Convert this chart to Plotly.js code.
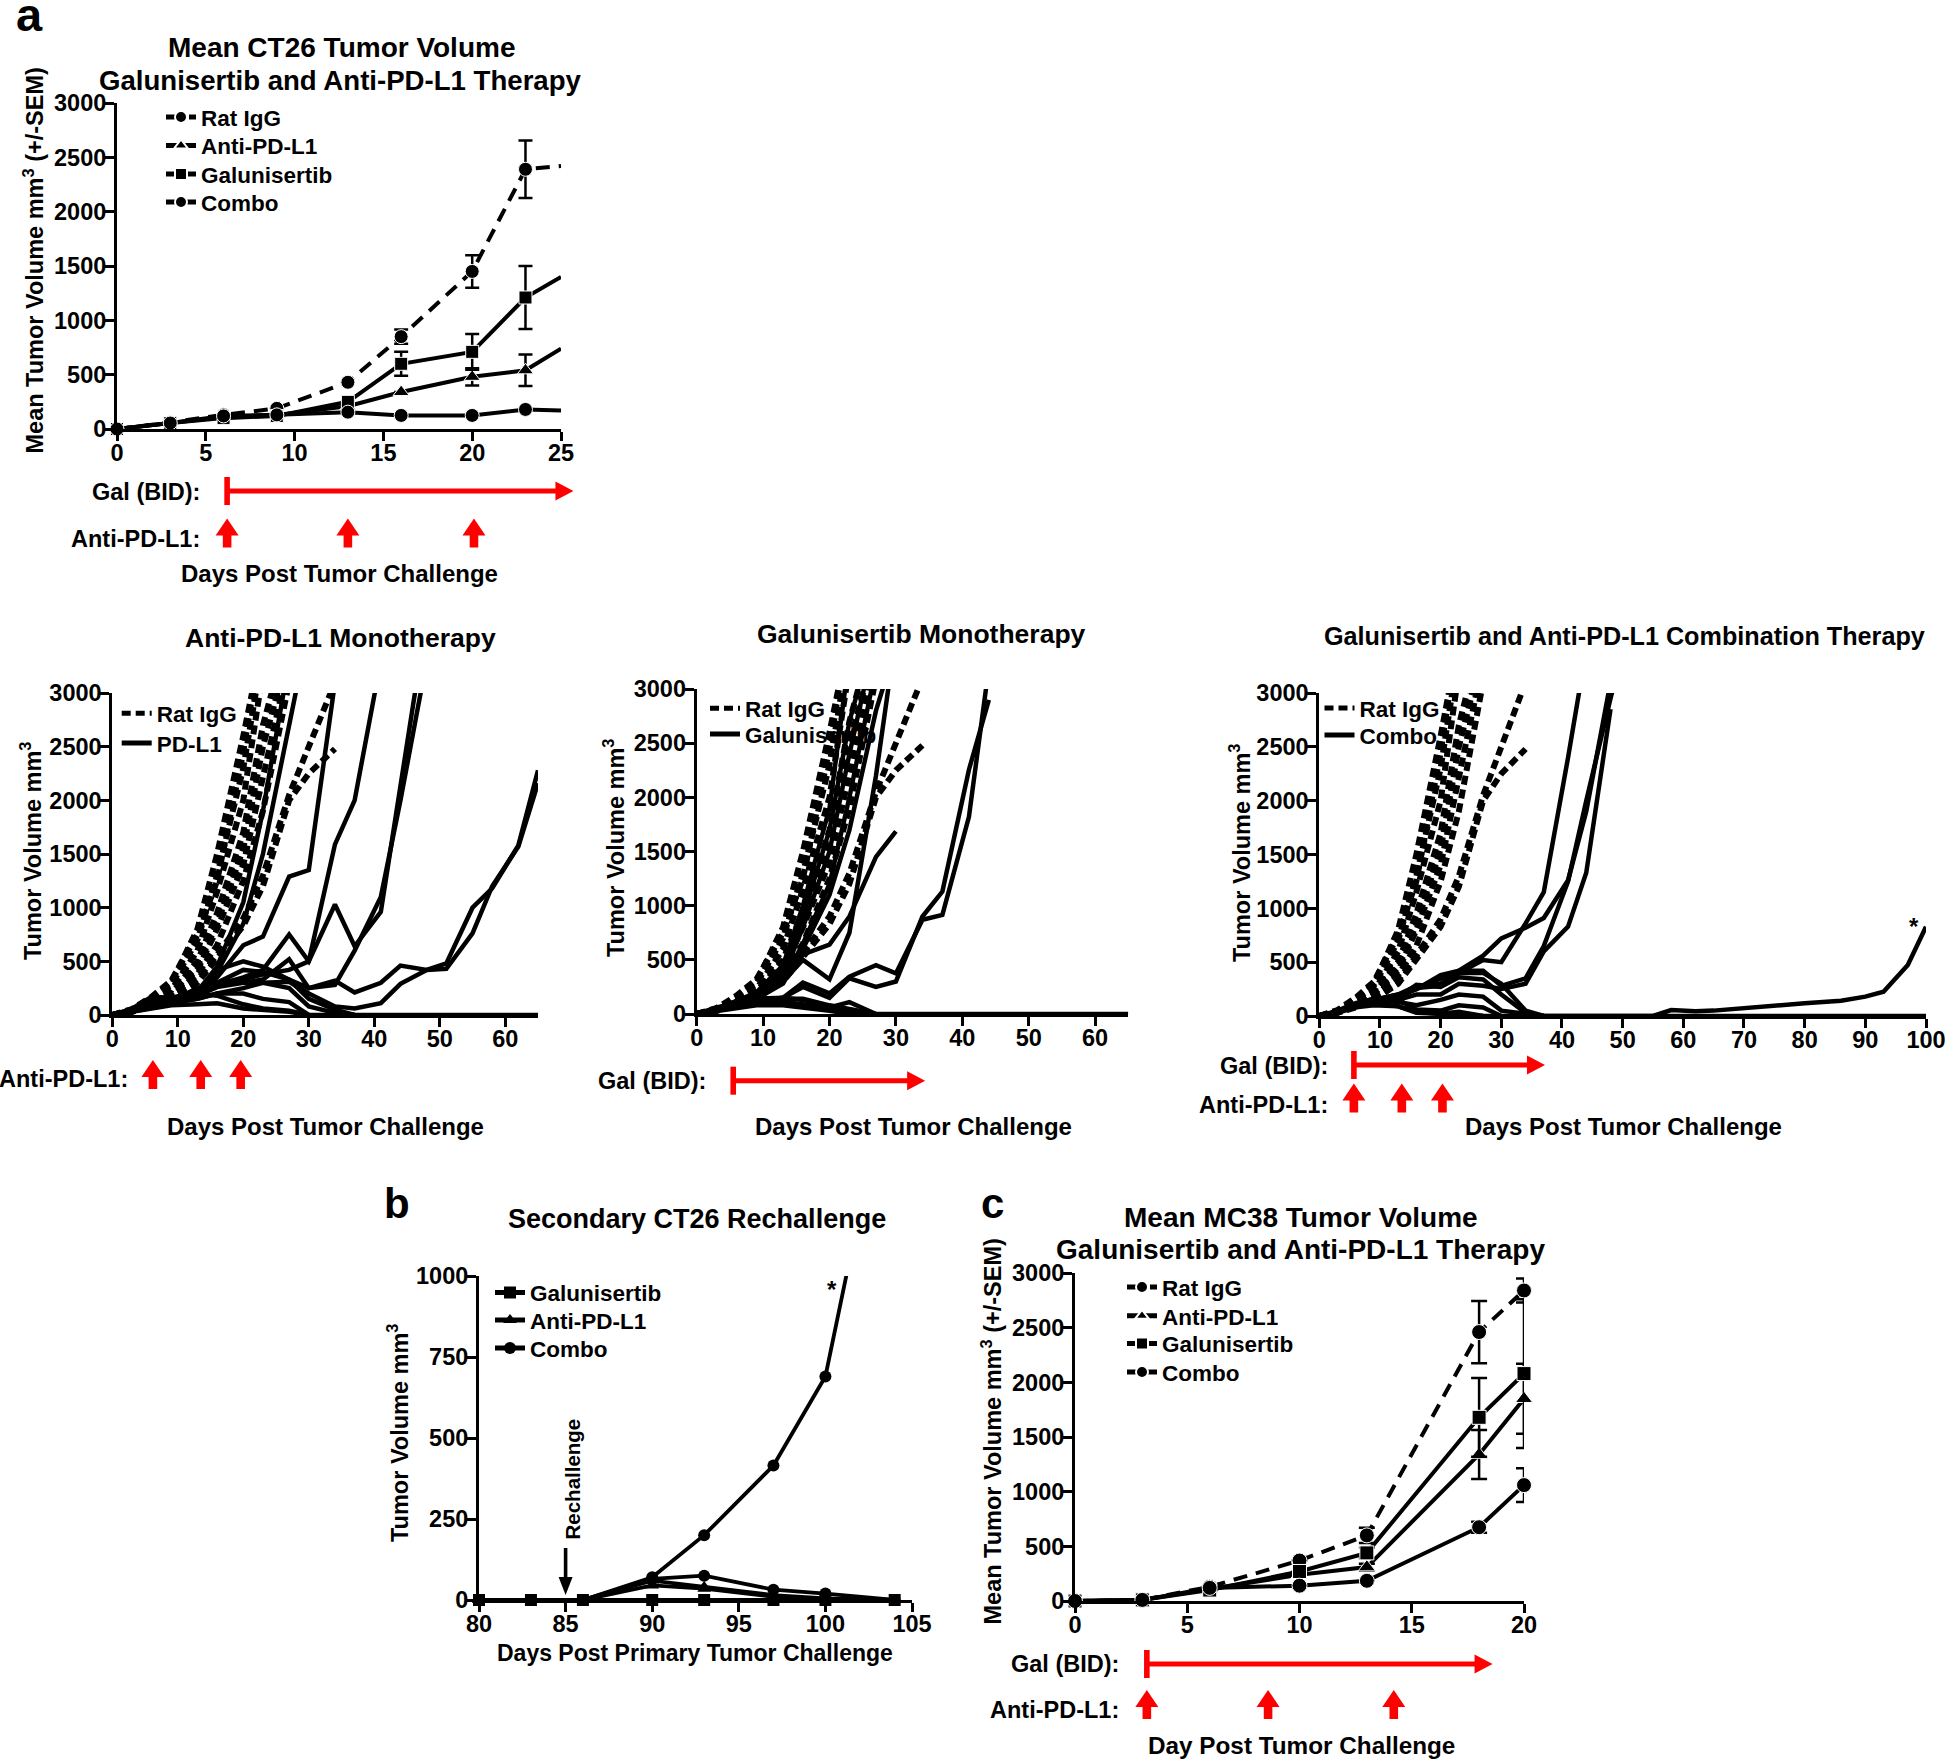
<!DOCTYPE html>
<html><head><meta charset="utf-8">
<script src="https://cdn.plot.ly/plotly-3.0.1.min.js"></script>
<style>html,body{margin:0;padding:0;background:#fff;} #chart{width:1945px;height:1759px;}</style>
</head><body><div id="chart"></div>
<script>
// ================= DATA =================
// Panel a: mean CT26 tumor volume (mm3) with SEM
const aDays = [0, 3, 6, 9, 13, 16, 20, 23, 25];
const aRatIgG = [0, 60, 130, 190, 430, 850, 1450, 2390, 2420];
const aAntiPDL1 = [0, 55, 110, 130, 210, 340, 480, 540, 740];
const aGalunisertib = [0, 55, 100, 120, 250, 600, 710, 1210, 1400];
const aCombo = [0, 55, 120, 130, 155, 125, 125, 180, 170];
const aRatIgGSem = [0, 0, 0, 0, 0, 65, 150, 265];
const aAntiPDL1Sem = [0, 0, 0, 0, 0, 0, 80, 145];
const aGalunisertibSem = [0, 0, 0, 0, 0, 110, 165, 290];
const aComboSem = [0, 0, 0, 0, 0, 0, 0, 0];
const aMeasuredPoints = 8;
const aGalDosing = [6.2, 25.7];
const aPdl1Dosing = [6.2, 13.0, 20.1];

// Individual mice (shared Rat IgG control group)
const ratDays = [0, 3, 6, 9, 13, 16, 20, 23, 27, 30, 34];
const ratIgGMice = [
  [0, 50, 150, 300, 800, 1500, 2600, 3500],
  [0, 45, 140, 280, 700, 1300, 2300, 3400],
  [0, 40, 120, 230, 600, 1150, 2000, 3200],
  [0, 55, 170, 320, 750, 1250, 2450, 3600],
  [0, 35, 110, 200, 500, 950, 1700, 2700, 3600],
  [0, 40, 100, 190, 420, 800, 1400, 2200, 3300],
  [0, 30, 90, 170, 380, 650, 1250, 1900, 3100],
  [0, 30, 80, 150, 300, 520, 830, 1200, 2000, 2250, 2480],
  [0, 35, 90, 160, 330, 560, 900, 1300, 2050, 2500, 3100],
  [0, 40, 110, 210, 450, 850, 1550, 2500, 3400]
];

// Anti-PD-L1 monotherapy mice
const monoDays = [0, 3, 6, 9, 13, 16, 20, 23, 27, 30, 34, 37, 41, 44, 48, 51, 55, 58, 62, 65];
const antiPDL1Mice = [
  [0, 60, 170, 160, 220, 450, 1050, 1900, 3300],
  [0, 50, 150, 140, 200, 400, 850, 1500, 2700, 3600],
  [0, 40, 100, 150, 200, 350, 650, 730, 1290, 1350, 3100],
  [0, 40, 110, 140, 230, 300, 330, 380, 420, 500, 1590, 2000, 3300],
  [0, 40, 100, 130, 200, 280, 350, 420, 750, 500, 1030, 640, 960, 2150, 3700],
  [0, 40, 90, 120, 180, 260, 300, 330, 520, 250, 280, 600, 1100, 2000, 3300],
  [0, 30, 80, 120, 180, 300, 420, 400, 330, 250, 320, 210, 300, 460, 420, 480, 1000, 1180, 1580, 2280],
  [0, 30, 70, 110, 150, 200, 250, 300, 310, 200, 80, 60, 110, 290, 420, 430, 760, 1200, 1570, 2160],
  [0, 40, 100, 150, 200, 180, 100, 60, 40, 0, 0, 0, 0, 0, 0, 0, 0, 0, 0, 0],
  [0, 30, 80, 120, 150, 200, 200, 150, 120, 0],
  [0, 40, 90, 130, 250, 300, 300, 300, 250, 80, 20, 0],
  [0, 30, 70, 100, 200, 420, 500, 450, 330, 150, 50, 0],
  [0, 30, 60, 90, 100, 110, 60, 50, 30, 0]
];
const dPdl1Dosing = [6.2, 13.5, 19.6];

// Galunisertib monotherapy mice
const galunisertibMice = [
  [0, 50, 120, 200, 450, 1000, 1900, 3300],
  [0, 40, 100, 180, 400, 900, 1700, 2700, 3600],
  [0, 40, 110, 170, 350, 800, 1500, 2400, 3500],
  [0, 40, 90, 150, 300, 650, 1200, 2000, 3200],
  [0, 30, 90, 140, 280, 600, 1100, 1700, 2800, 3400],
  [0, 40, 100, 150, 300, 500, 320, 750, 2200, 3500],
  [0, 40, 100, 150, 300, 550, 640, 900, 1450, 1685],
  [0, 40, 80, 120, 150, 290, 190, 345, 450, 375, 870, 915, 1820, 3200],
  [0, 40, 80, 110, 150, 250, 150, 330, 250, 300, 900, 1130, 2255, 2900],
  [0, 60, 100, 140, 150, 130, 60, 110, 0, 0, 0, 0, 0, 0, 0, 0, 0, 0, 0, 0],
  [0, 40, 80, 100, 110, 90, 40, 20, 0],
  [0, 30, 60, 80, 80, 60, 30, 0],
  [0, 50, 120, 150, 140, 140, 80, 50, 0]
];
const eGalDosing = [5.5, 34.4];

// Combination therapy mice
const comboDays = [0, 3, 6, 9, 13, 16, 20, 23, 27, 30, 34, 37, 41, 44, 48, 51, 55, 58, 62, 65, 70, 75, 80, 86, 90, 93, 97, 100];
const comboMice = [
  [0, 40, 100, 150, 200, 280, 300, 400, 520, 500, 860, 1150, 2400, 3400],
  [0, 40, 90, 130, 180, 250, 350, 420, 560, 720, 820, 910, 1260, 1900, 3100],
  [0, 40, 90, 120, 150, 200, 200, 300, 280, 250, 300, 600, 830, 1330, 2850],
  [0, 40, 100, 150, 200, 250, 380, 420, 420, 280, 350, 650, 1250, 2000, 2950, 3600],
  [0, 40, 110, 160, 170, 290, 270, 360, 340, 200, 30, 0, 0, 0, 0, 0, 0, 0, 0, 0, 0, 0, 0, 0, 0, 0, 0, 0],
  [0, 30, 90, 150, 130, 100, 150, 200, 180, 50, 20, 0],
  [0, 50, 120, 160, 150, 60, 50, 100, 80, 0],
  [0, 30, 80, 100, 90, 30, 20, 40, 0],
  [0, 40, 100, 130, 170, 260, 280, 400, 400, 300, 50, 0],
  [0, 40, 100, 120, 90, 40, 20, 10, 0, 0, 0, 0, 0, 0, 0, 0, 0, 55, 45, 50, 75, 95, 118, 142, 180, 226, 474, 830]
];
const fGalDosing = [5.7, 37.2];
const fPdl1Dosing = [5.7, 13.6, 20.3];

// Panel b: secondary CT26 rechallenge (individual mice)
const bDays = [80, 83, 86, 90, 93, 97, 100, 104];
const bGalunisertibMice = [[0, 0, 0, 0, 0, 0, 0, 0]];
const bAntiPDL1Mice = [[0, 0, 0, 60, 40, 15, 5, 0], [0, 0, 0, 45, 35, 10, 0, 0]];
const bComboMice = [[0, 0, 0, 70, 200, 415, 690, 1720], [0, 0, 0, 65, 75, 32, 20, 0]];
const bRechallengeDay = 85;

// Panel c: mean MC38 tumor volume with SEM
const cDays = [0, 3, 6, 10, 13, 18, 20];
const cRatIgG = [0, 10, 130, 370, 600, 2460, 2840];
const cAntiPDL1 = [0, 10, 110, 240, 310, 1340, 1850];
const cGalunisertib = [0, 10, 100, 270, 440, 1680, 2080];
const cCombo = [0, 10, 120, 140, 185, 675, 1060];
const cRatIgGSem = [0, 0, 0, 0, 70, 285, 110];
const cAntiPDL1Sem = [0, 0, 0, 0, 30, 225, 320];
const cGalunisertibSem = [0, 0, 0, 0, 50, 360, 680];
const cComboSem = [0, 0, 0, 0, 0, 50, 155];
const cGalDosing = [3.2, 18.6];
const cPdl1Dosing = [3.2, 8.6, 14.2];

// ================= STYLE / LAYOUT =================
const W = 1945, H = 1759;
const FONT = 'Liberation Sans, Arial, Helvetica, sans-serif';
const RED = 'rgb(255,0,0)';
const BLACK = '#000000';
const TICK_FS = 23.5, LEG_FS = 22.5, AXT_FS = 24;
const px = v => v / W;
const py = v => 1 - v / H;

const P = {
  a:     {l: 117,    r: 561,    t: 103,  b: 429,  xr: [0, 25],   yr: [0, 3000], dx: 5,  dy: 500},
  anti:  {l: 112.3,  r: 538,    t: 693,  b: 1015, xr: [0, 65],   yr: [0, 3000], dx: 10, dy: 500},
  gal:   {l: 696.7,  r: 1128.3, t: 689,  b: 1014, xr: [0, 65],   yr: [0, 3000], dx: 10, dy: 500},
  combo: {l: 1319.3, r: 1926,   t: 693,  b: 1016, xr: [0, 100],  yr: [0, 3000], dx: 10, dy: 500},
  b:     {l: 479,    r: 912,    t: 1276, b: 1600, xr: [80, 105], yr: [0, 1000], dx: 5,  dy: 250},
  c:     {l: 1075,   r: 1524,   t: 1273, b: 1601, xr: [0, 20],   yr: [0, 3000], dx: 5,  dy: 500}
};
const dayPx = (p, d) => p.l + (d - p.xr[0]) / (p.xr[1] - p.xr[0]) * (p.r - p.l);

const layout = {
  width: W, height: H, margin: {l: 0, r: 0, t: 0, b: 0},
  paper_bgcolor: '#ffffff', plot_bgcolor: 'rgba(0,0,0,0)',
  showlegend: true, font: {family: FONT, color: BLACK}
};
const axisStyle = {
  showline: true, linecolor: BLACK, linewidth: 3, ticks: 'outside', ticklen: 9, tickwidth: 3,
  tickcolor: BLACK, showgrid: false, zeroline: false, fixedrange: true, ticklabeloverflow: 'allow',
  tickfont: {family: FONT, size: TICK_FS, color: BLACK, weight: 'bold'}
};
['a', 'anti', 'gal', 'combo', 'b', 'c'].forEach((k, i) => {
  const p = P[k]; const n = i === 0 ? '' : String(i + 1);
  p.ax = 'x' + n; p.ay = 'y' + n;
  layout['xaxis' + n] = Object.assign({}, axisStyle, {domain: [px(p.l), px(p.r)], range: p.xr, dtick: p.dx, tick0: p.xr[0], anchor: 'y' + n, ticklabelstandoff: -8});
  layout['yaxis' + n] = Object.assign({}, axisStyle, {domain: [py(p.b), py(p.t)], range: p.yr, dtick: p.dy, tick0: 0, anchor: 'x' + n, ticklabelstandoff: -6});
});

// one legend per entry, positioned like the original
let legendCount = 0;
const legOffset = (Math.max(LEG_FS * 1.3, 16) + 3) / 2 + 5;
function newLegend(textX, cy) {
  legendCount++;
  const id = legendCount === 1 ? 'legend' : 'legend' + legendCount;
  layout[id] = {x: px(textX - 40), y: py(cy - legOffset), xanchor: 'left', yanchor: 'top',
    bgcolor: 'rgba(0,0,0,0)', borderwidth: 0, itemsizing: 'constant',
    font: {family: FONT, size: LEG_FS, color: BLACK, weight: 'bold'}};
  return id;
}

const traces = [];
function meanTrace(p, name, days, vals, sem, symbol, dash, size, capW, legendId, nMarked) {
  return {type: 'scatter', mode: 'lines+markers', name, x: days, y: vals, xaxis: p.ax, yaxis: p.ay,
    line: {color: BLACK, width: 4, dash},
    marker: {symbol, color: BLACK, opacity: 1, size: days.map((d, i) => i < nMarked ? size : 0)},
    error_y: {type: 'data', array: sem, visible: true, color: BLACK, thickness: 2.5, width: capW},
    cliponaxis: false, legend: legendId, hoverinfo: 'skip'};
}
function mouseTraces(p, name, days, mice, dash, width, legendId) {
  return mice.map((vals, i) => ({type: 'scatter', mode: 'lines', name, x: days.slice(0, vals.length), y: vals,
    xaxis: p.ax, yaxis: p.ay, line: {color: BLACK, width, dash}, showlegend: i === 0,
    legend: legendId, hoverinfo: 'skip'}));
}
function rechallengeTraces(p, name, days, mice, symbol, legendId) {
  return mice.map((vals, i) => {
    const overflow = vals.some(v => v > p.yr[1]);
    return {type: 'scatter', mode: 'lines+markers', name, x: days, y: vals, xaxis: p.ax, yaxis: p.ay,
      line: {color: BLACK, width: 3.8}, marker: {symbol, color: BLACK, opacity: 1, size: 12},
      cliponaxis: overflow, showlegend: i === 0, legend: legendId, hoverinfo: 'skip'};
  });
}

// ---- Panel a
const RAT_DASH_MEAN = '14px,9px';
traces.push(meanTrace(P.a, 'Rat IgG', aDays, aRatIgG, aRatIgGSem, 'circle', RAT_DASH_MEAN, 14, 7, newLegend(201, 117), aMeasuredPoints));
traces.push(meanTrace(P.a, 'Anti-PD-L1', aDays, aAntiPDL1, aAntiPDL1Sem, 'triangle-up', 'solid', 14, 7, newLegend(201, 145.5), aMeasuredPoints));
traces.push(meanTrace(P.a, 'Galunisertib', aDays, aGalunisertib, aGalunisertibSem, 'square', 'solid', 13, 7, newLegend(201, 174), aMeasuredPoints));
traces.push(meanTrace(P.a, 'Combo', aDays, aCombo, aComboSem, 'circle', 'solid', 14, 7, newLegend(201, 202), aMeasuredPoints));

// ---- Spaghetti panels
const RAT_DASH = '9px,5px';
traces.push(...mouseTraces(P.anti, 'Rat IgG', ratDays, ratIgGMice, RAT_DASH, 6, newLegend(156.7, 713.3)));
traces.push(...mouseTraces(P.anti, 'PD-L1', monoDays, antiPDL1Mice, 'solid', 4.5, newLegend(156.7, 743)));
traces.push(...mouseTraces(P.gal, 'Rat IgG', ratDays, ratIgGMice, RAT_DASH, 6, newLegend(745, 708.3)));
traces.push(...mouseTraces(P.gal, 'Galunisertib', monoDays, galunisertibMice, 'solid', 4.5, newLegend(745, 734)));
traces.push(...mouseTraces(P.combo, 'Rat IgG', ratDays, ratIgGMice, RAT_DASH, 6, newLegend(1359.5, 708)));
traces.push(...mouseTraces(P.combo, 'Combo', comboDays, comboMice, 'solid', 4.5, newLegend(1359.5, 735)));

// ---- Panel b
const legBGal = newLegend(530, 1292.5), legBAnti = newLegend(530, 1320), legBCombo = newLegend(530, 1348);
traces.push(...rechallengeTraces(P.b, 'Combo', bDays, bComboMice, 'circle', legBCombo));
traces.push(...rechallengeTraces(P.b, 'Anti-PD-L1', bDays, bAntiPDL1Mice, 'triangle-up', legBAnti));
traces.push(...rechallengeTraces(P.b, 'Galunisertib', bDays, bGalunisertibMice, 'square', legBGal));

// ---- Panel c
traces.push(meanTrace(P.c, 'Rat IgG', cDays, cRatIgG, cRatIgGSem, 'circle', RAT_DASH_MEAN, 15, 8, newLegend(1162, 1287), cDays.length));
traces.push(meanTrace(P.c, 'Anti-PD-L1', cDays, cAntiPDL1, cAntiPDL1Sem, 'triangle-up', 'solid', 15, 8, newLegend(1162, 1315.8), cDays.length));
traces.push(meanTrace(P.c, 'Galunisertib', cDays, cGalunisertib, cGalunisertibSem, 'square', 'solid', 14, 8, newLegend(1162, 1343.6), cDays.length));
traces.push(meanTrace(P.c, 'Combo', cDays, cCombo, cComboSem, 'circle', 'solid', 15, 8, newLegend(1162, 1372), cDays.length));

// ================= TEXT =================
const ann = [];
function txt(text, x, y, size, extra) {
  ann.push(Object.assign({text, x: px(x), y: py(y), xref: 'paper', yref: 'paper', showarrow: false,
    xanchor: 'center', yanchor: 'middle', font: {family: FONT, size, color: BLACK, weight: 'bold'}}, extra || {}));
}
const RIGHT = {xanchor: 'right'};
const VERT = {textangle: -90};
// panel a
txt('a', 29, 15, 47);
txt('Mean CT26 Tumor Volume', 341, 48, 28);
txt('Galunisertib and Anti-PD-L1 Therapy', 340, 80, 27.6);
txt('Mean Tumor Volume mm<sup>3</sup> (+/-SEM)', 33.5, 261, 23.5, VERT);
txt('Gal (BID):', 202, 492, 23.5, RIGHT);
txt('Anti-PD-L1:', 202, 539, 23.5, RIGHT);
txt('Days Post Tumor Challenge', 339.5, 573, AXT_FS);
// anti-PD-L1 monotherapy
txt('Anti-PD-L1 Monotherapy', 340, 637.5, 26.5);
txt('Tumor Volume mm<sup>3</sup>', 31, 851, 23.5, VERT);
txt('Anti-PD-L1:', 130, 1079, 23.5, RIGHT);
txt('Days Post Tumor Challenge', 325, 1126.5, AXT_FS);
// galunisertib monotherapy
txt('Galunisertib Monotherapy', 921, 634, 26.5);
txt('Tumor Volume mm<sup>3</sup>', 614, 848, 23.5, VERT);
txt('Gal (BID):', 708, 1080.7, 23.5, RIGHT);
txt('Days Post Tumor Challenge', 913, 1126.5, AXT_FS);
// combination
txt('Galunisertib and Anti-PD-L1 Combination Therapy', 1624, 636, 25.2);
txt('Tumor Volume mm<sup>3</sup>', 1240, 853, 23.5, VERT);
txt('Gal (BID):', 1330, 1066, 23.5, RIGHT);
txt('Anti-PD-L1:', 1330, 1105, 23.5, RIGHT);
txt('Days Post Tumor Challenge', 1623, 1126.5, AXT_FS);
txt('*', 1914, 926, 24);
// panel b
txt('b', 397, 1203, 42);
txt('Secondary CT26 Rechallenge', 697, 1219, 27);
txt('Tumor Volume mm<sup>3</sup>', 398, 1433, 23.5, VERT);
txt('Rechallenge', 571.5, 1479, 20.5, VERT);
txt('*', 831.5, 1289, 24);
txt('Days Post Primary Tumor Challenge', 695, 1653, 23);
// panel c
txt('c', 992.5, 1203, 42);
txt('Mean MC38 Tumor Volume', 1300.6, 1217, 28);
txt('Galunisertib and Anti-PD-L1 Therapy', 1300.6, 1249, 28);
txt('Mean Tumor Volume mm<sup>3</sup> (+/-SEM)', 991.5, 1431, 23.5, VERT);
txt('Gal (BID):', 1121, 1664, 23.5, RIGHT);
txt('Anti-PD-L1:', 1121, 1710, 23.5, RIGHT);
txt('Day Post Tumor Challenge', 1301, 1745, 24.3);
layout.annotations = ann;

// ================= TREATMENT ARROWS =================
const shapes = [];
function poly(points, color) {
  const d = points.map((q, i) => (i ? 'L' : 'M') + px(q[0]).toFixed(6) + ',' + py(q[1]).toFixed(6)).join(' ') + ' Z';
  shapes.push({type: 'path', xref: 'paper', yref: 'paper', path: d, fillcolor: color, line: {width: 0}, layer: 'above'});
}
function upArrow(cx, tip) {
  poly([[cx, tip], [cx + 11.5, tip + 17], [cx + 4.3, tip + 17], [cx + 4.3, tip + 29],
        [cx - 4.3, tip + 29], [cx - 4.3, tip + 17], [cx - 11.5, tip + 17]], RED);
}
function galArrow(x0, x1, cy) {
  poly([[x0 - 2.8, cy - 14], [x0 + 2.8, cy - 14], [x0 + 2.8, cy + 14], [x0 - 2.8, cy + 14]], RED);
  poly([[x0, cy - 2.5], [x1 - 17, cy - 2.5], [x1 - 17, cy + 2.5], [x0, cy + 2.5]], RED);
  poly([[x1 - 18, cy - 9.5], [x1, cy], [x1 - 18, cy + 9.5]], RED);
}
galArrow(dayPx(P.a, aGalDosing[0]), dayPx(P.a, aGalDosing[1]), 491);
aPdl1Dosing.forEach(d => upArrow(dayPx(P.a, d), 518.6));
dPdl1Dosing.forEach(d => upArrow(dayPx(P.anti, d), 1060));
galArrow(dayPx(P.gal, eGalDosing[0]), dayPx(P.gal, eGalDosing[1]), 1080.7);
galArrow(dayPx(P.combo, fGalDosing[0]), dayPx(P.combo, fGalDosing[1]), 1065);
fPdl1Dosing.forEach(d => upArrow(dayPx(P.combo, d), 1083.5));
galArrow(dayPx(P.c, cGalDosing[0]), dayPx(P.c, cGalDosing[1]), 1664);
cPdl1Dosing.forEach(d => upArrow(dayPx(P.c, d), 1690));
// rechallenge arrow (black, pointing down)
(function () {
  const x = dayPx(P.b, bRechallengeDay);
  poly([[x - 1.8, 1548], [x + 1.8, 1548], [x + 1.8, 1579], [x - 1.8, 1579]], BLACK);
  poly([[x - 7, 1577], [x + 7, 1577], [x, 1595]], BLACK);
})();
layout.shapes = shapes;

Plotly.newPlot('chart', traces, layout, {staticPlot: true, displayModeBar: false});
</script>
</body></html>
